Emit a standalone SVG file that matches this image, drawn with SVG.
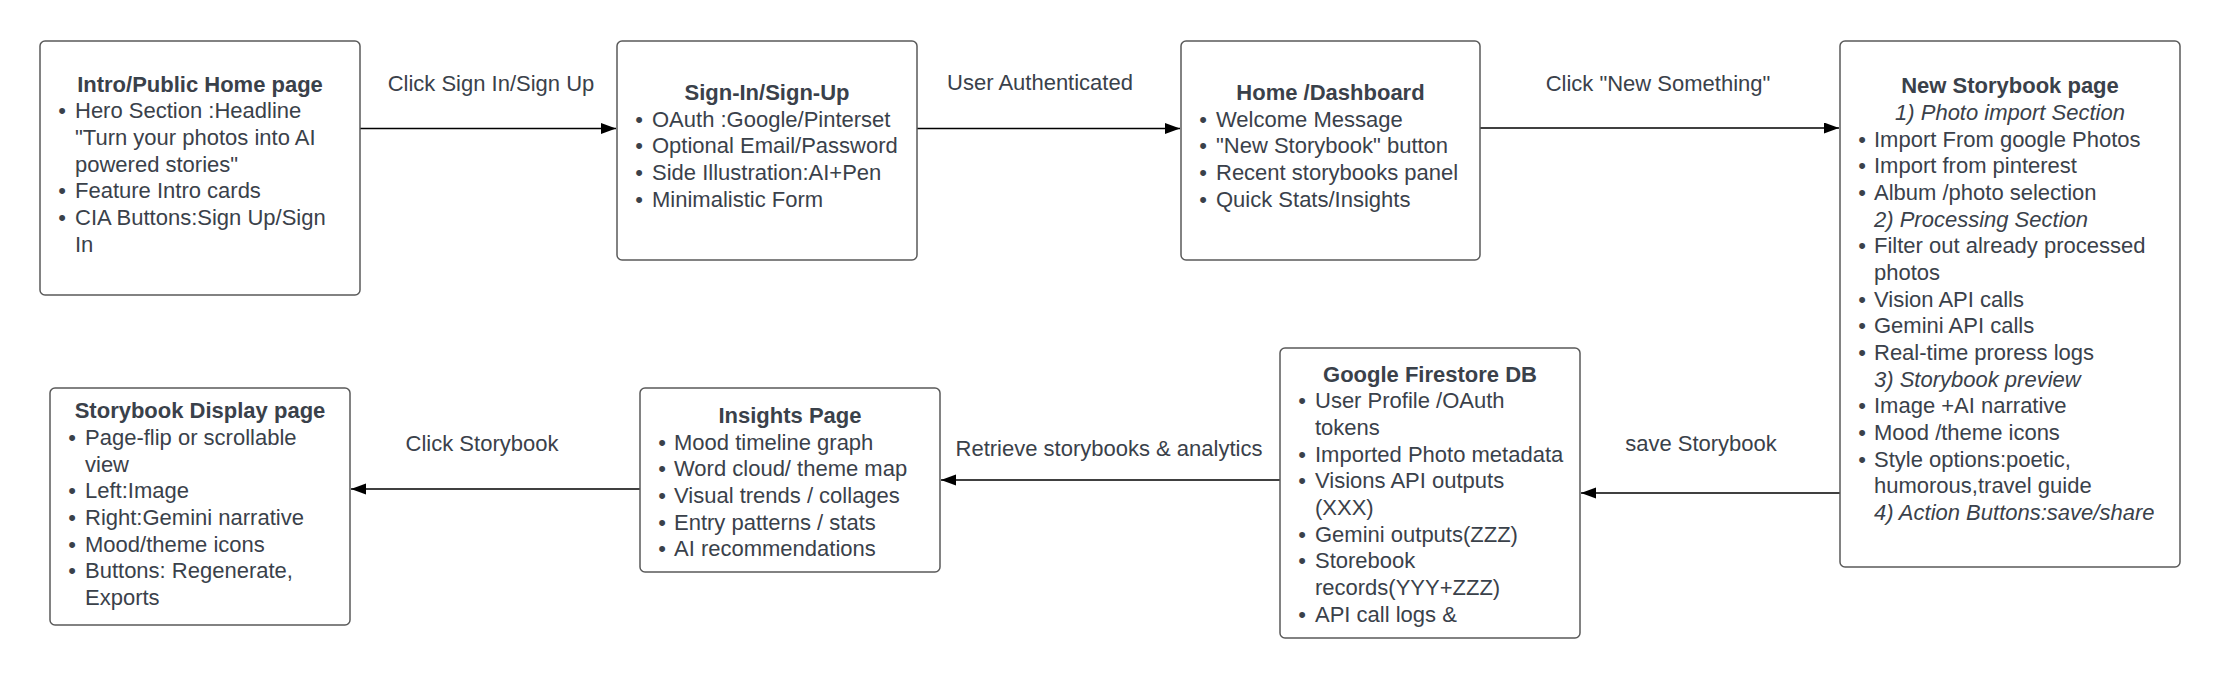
<svg xmlns="http://www.w3.org/2000/svg" width="2220" height="678" viewBox="0 0 2220 678">
<style>
  text { font-family: "Liberation Sans", Arial, sans-serif; font-size: 22px; fill: #3a414a; }
  .t { font-weight: bold; text-anchor: middle; }
  .c { text-anchor: middle; }
  .i { font-style: italic; }
  .b { text-anchor: middle; }
  .box { fill: #ffffff; stroke: #5a5a5a; stroke-width: 1.5; }
  .edge { stroke: #000000; stroke-width: 1.5; fill: none; marker-end: url(#arrow); }
</style>
<defs>
  <marker id="arrow" markerUnits="userSpaceOnUse" markerWidth="16" markerHeight="12" refX="15" refY="5.5" orient="auto">
    <path d="M0,0 L15,5.5 L0,11 Z" fill="#000000"/>
  </marker>
</defs>
<rect width="2220" height="678" fill="#ffffff"/>

<g id="connectors">
  <line class="edge" x1="360" y1="128.5" x2="616" y2="128.5"/>
  <line class="edge" x1="917" y1="128.5" x2="1180" y2="128.5"/>
  <line class="edge" x1="1480" y1="128" x2="1839" y2="128"/>
  <line class="edge" x1="1840" y1="493" x2="1581" y2="493"/>
  <line class="edge" x1="1280" y1="480" x2="941" y2="480"/>
  <line class="edge" x1="640" y1="489" x2="351" y2="489"/>
  <text class="c" x="491" y="91">Click Sign In/Sign Up</text>
  <text class="c" x="1040" y="90">User Authenticated</text>
  <text class="c" x="1658" y="91">Click "New Something"</text>
  <text class="c" x="1701" y="451">save Storybook</text>
  <text class="c" x="1109" y="456">Retrieve storybooks &amp; analytics</text>
  <text class="c" x="482" y="451">Click Storybook</text>
</g>

<g id="intro">
  <rect class="box" x="40" y="41" width="320" height="254" rx="5"/>
  <text class="t" x="200" y="92">Intro/Public Home page</text>
  <text class="b" x="62" y="118.3">•</text><text x="75" y="118.3">Hero Section :Headline</text>
  <text x="75" y="145">"Turn your photos into AI</text>
  <text x="75" y="171.7">powered stories"</text>
  <text class="b" x="62" y="198.3">•</text><text x="75" y="198.3">Feature Intro cards</text>
  <text class="b" x="62" y="225">•</text><text x="75" y="225">CIA Buttons:Sign Up/Sign</text>
  <text x="75" y="251.7">In</text>
</g>

<g id="signin">
  <rect class="box" x="617" y="41" width="300" height="219" rx="5"/>
  <text class="t" x="767" y="100">Sign-In/Sign-Up</text>
  <text class="b" x="639" y="126.7">•</text><text x="652" y="126.7">OAuth :Google/Pinterset</text>
  <text class="b" x="639" y="153.3">•</text><text x="652" y="153.3">Optional Email/Password</text>
  <text class="b" x="639" y="180">•</text><text x="652" y="180">Side Illustration:AI+Pen</text>
  <text class="b" x="639" y="206.7">•</text><text x="652" y="206.7">Minimalistic Form</text>
</g>

<g id="dashboard">
  <rect class="box" x="1181" y="41" width="299" height="219" rx="5"/>
  <text class="t" x="1330.5" y="100">Home /Dashboard</text>
  <text class="b" x="1203" y="126.7">•</text><text x="1216" y="126.7">Welcome Message</text>
  <text class="b" x="1203" y="153.3">•</text><text x="1216" y="153.3">"New Storybook" button</text>
  <text class="b" x="1203" y="180">•</text><text x="1216" y="180">Recent storybooks panel</text>
  <text class="b" x="1203" y="206.7">•</text><text x="1216" y="206.7">Quick Stats/Insights</text>
</g>

<g id="new-storybook">
  <rect class="box" x="1840" y="41" width="340" height="526" rx="5"/>
  <text class="t" x="2010" y="93.3">New Storybook page</text>
  <text class="c i" x="2010" y="120">1) Photo import Section</text>
  <text class="b" x="1862" y="146.7">•</text><text x="1874" y="146.7">Import From google Photos</text>
  <text class="b" x="1862" y="173.3">•</text><text x="1874" y="173.3">Import from pinterest</text>
  <text class="b" x="1862" y="200">•</text><text x="1874" y="200">Album /photo selection</text>
  <text class="i" x="1874" y="226.7">2) Processing Section</text>
  <text class="b" x="1862" y="253.3">•</text><text x="1874" y="253.3">Filter out already processed</text>
  <text x="1874" y="280">photos</text>
  <text class="b" x="1862" y="306.7">•</text><text x="1874" y="306.7">Vision API calls</text>
  <text class="b" x="1862" y="333.3">•</text><text x="1874" y="333.3">Gemini API calls</text>
  <text class="b" x="1862" y="360">•</text><text x="1874" y="360">Real-time proress logs</text>
  <text class="i" x="1874" y="386.7">3) Storybook preview</text>
  <text class="b" x="1862" y="413.3">•</text><text x="1874" y="413.3">Image +AI narrative</text>
  <text class="b" x="1862" y="440">•</text><text x="1874" y="440">Mood /theme icons</text>
  <text class="b" x="1862" y="466.7">•</text><text x="1874" y="466.7">Style options:poetic,</text>
  <text x="1874" y="493.3">humorous,travel guide</text>
  <text class="i" x="1874" y="520">4) Action Buttons:save/share</text>
</g>

<g id="firestore">
  <rect class="box" x="1280" y="348" width="300" height="290" rx="5"/>
  <text class="t" x="1430" y="381.7">Google Firestore DB</text>
  <text class="b" x="1302" y="408.3">•</text><text x="1315" y="408.3">User Profile /OAuth</text>
  <text x="1315" y="435">tokens</text>
  <text class="b" x="1302" y="461.7">•</text><text x="1315" y="461.7">Imported Photo metadata</text>
  <text class="b" x="1302" y="488.3">•</text><text x="1315" y="488.3">Visions API outputs</text>
  <text x="1315" y="515">(XXX)</text>
  <text class="b" x="1302" y="541.7">•</text><text x="1315" y="541.7">Gemini outputs(ZZZ)</text>
  <text class="b" x="1302" y="568.3">•</text><text x="1315" y="568.3">Storebook</text>
  <text x="1315" y="595">records(YYY+ZZZ)</text>
  <text class="b" x="1302" y="621.7">•</text><text x="1315" y="621.7">API call logs &amp;</text>
</g>

<g id="insights">
  <rect class="box" x="640" y="388" width="300" height="184" rx="5"/>
  <text class="t" x="790" y="422.7">Insights Page</text>
  <text class="b" x="662" y="449.5">•</text><text x="674" y="449.5">Mood timeline graph</text>
  <text class="b" x="662" y="476.2">•</text><text x="674" y="476.2">Word cloud/ theme map</text>
  <text class="b" x="662" y="502.9">•</text><text x="674" y="502.9">Visual trends / collages</text>
  <text class="b" x="662" y="529.6">•</text><text x="674" y="529.6">Entry patterns / stats</text>
  <text class="b" x="662" y="556.3">•</text><text x="674" y="556.3">AI recommendations</text>
</g>

<g id="storybook-display">
  <rect class="box" x="50" y="388" width="300" height="237" rx="5"/>
  <text class="t" x="200" y="418.3">Storybook Display page</text>
  <text class="b" x="72" y="445">•</text><text x="85" y="445">Page-flip or scrollable</text>
  <text x="85" y="471.7">view</text>
  <text class="b" x="72" y="498.3">•</text><text x="85" y="498.3">Left:Image</text>
  <text class="b" x="72" y="525">•</text><text x="85" y="525">Right:Gemini narrative</text>
  <text class="b" x="72" y="551.7">•</text><text x="85" y="551.7">Mood/theme icons</text>
  <text class="b" x="72" y="578.3">•</text><text x="85" y="578.3">Buttons: Regenerate,</text>
  <text x="85" y="605">Exports</text>
</g>
</svg>
